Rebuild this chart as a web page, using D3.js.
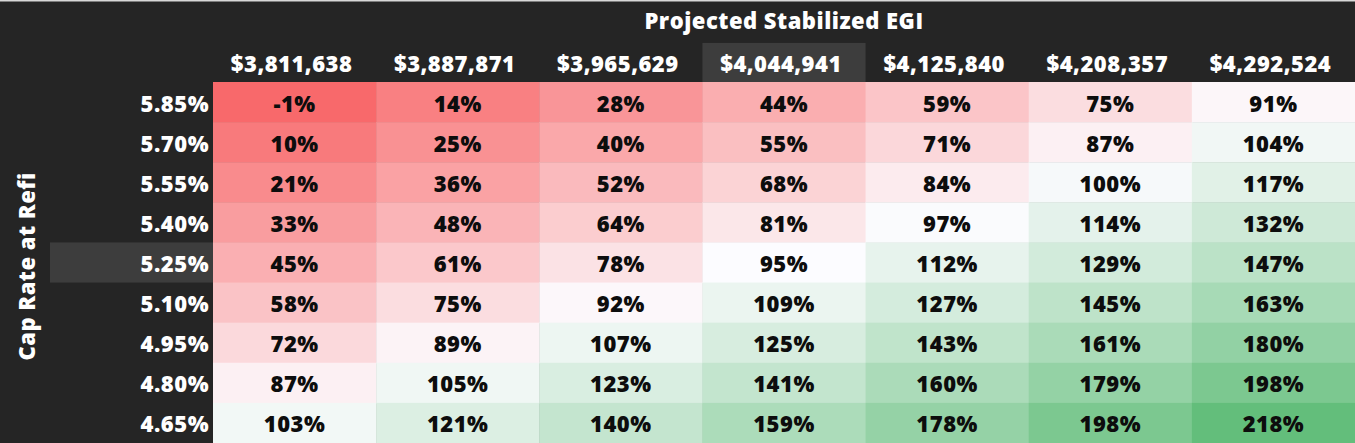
<!DOCTYPE html>
<html lang="en">
<head>
    <meta charset="UTF-8">
    <title>Cap Rate Sensitivity</title>
    <script src="https://d3js.org/d3.v7.min.js"></script>
    <style>
        body {
            margin: 0;
            padding: 0;
            background-color: #252525;
            font-family: 'Open Sans', 'Noto Sans', sans-serif;
            overflow: hidden;
        }
        #chart text {
            font-weight: 800;
            letter-spacing: 0.5px;
        }
    </style>
</head>
<body>
    <div id="chart"></div>

    <script>
        // column headers (projected stabilized EGI)
        const egiLabels = ["$3,811,638", "$3,887,871", "$3,965,629", "$4,044,941", "$4,125,840", "$4,208,357", "$4,292,524"];
        // row headers (cap rate at refi)
        const capRateLabels = ["5.85%", "5.70%", "5.55%", "5.40%", "5.25%", "5.10%", "4.95%", "4.80%", "4.65%"];
        // base case, highlighted in the headers
        const baseEgi = "$4,044,941";
        const baseCapRate = "5.25%";
        // values in %, one row per cap rate
        const values = [
            [-1, 14, 28, 44, 59, 75, 91],
            [10, 25, 40, 55, 71, 87, 104],
            [21, 36, 52, 68, 84, 100, 117],
            [33, 48, 64, 81, 97, 114, 132],
            [45, 61, 78, 95, 112, 129, 147],
            [58, 75, 92, 109, 127, 145, 163],
            [72, 89, 107, 125, 143, 161, 180],
            [87, 105, 123, 141, 160, 179, 198],
            [103, 121, 140, 159, 178, 198, 218]
        ];

        const width = 1355, height = 443;
        const gridLeft = 213, gridTop = 82;
        const fontSize = 22;

        const cells = [];
        values.forEach((row, i) => row.forEach((v, j) => {
            cells.push({ cap: capRateLabels[i], egi: egiLabels[j], value: v });
        }));

        const flat = cells.map(d => d.value);
        const color = d3.scaleLinear()
            .domain([d3.min(flat), d3.median(flat), d3.max(flat)])
            .range(["#f8696b", "#fcfcff", "#63be7b"]);

        const x = d3.scaleBand().domain(egiLabels).range([gridLeft, width]);
        const y = d3.scaleBand().domain(capRateLabels).range([gridTop, height]);

        const svg = d3.select("#chart").append("svg")
            .attr("width", width)
            .attr("height", height)
            .style("display", "block");

        svg.append("rect")
            .attr("width", width).attr("height", height)
            .attr("fill", "#252525");

        // thin light strip at the very top
        svg.append("rect")
            .attr("width", width).attr("height", 1.5)
            .attr("fill", "#d8d8d8");

        // header highlights
        svg.append("rect")
            .attr("x", x(baseEgi)).attr("y", gridTop - y.bandwidth() + 1)
            .attr("width", x.bandwidth()).attr("height", y.bandwidth() - 1)
            .attr("fill", "#3d3d3d");

        svg.append("rect")
            .attr("x", 50).attr("y", y(baseCapRate))
            .attr("width", gridLeft - 50).attr("height", y.bandwidth())
            .attr("fill", "#3d3d3d");

        // cells
        svg.append("g").selectAll("rect")
            .data(cells)
            .join("rect")
            .attr("x", d => x(d.egi))
            .attr("y", d => y(d.cap))
            .attr("width", x.bandwidth() + 0.5)
            .attr("height", y.bandwidth() + 0.5)
            .attr("fill", d => color(d.value));

        svg.append("g").selectAll("text")
            .data(cells)
            .join("text")
            .attr("x", d => x(d.egi) + x.bandwidth() / 2)
            .attr("y", d => y(d.cap) + 29.5)
            .attr("text-anchor", "middle")
            .attr("font-size", fontSize)
            .attr("fill", "#0d0d0d")
            .text(d => d.value + "%");

        // column headers
        svg.append("g").selectAll("text")
            .data(egiLabels)
            .join("text")
            .attr("x", d => x(d) + x.bandwidth() / 2 - 3)
            .attr("y", 72)
            .attr("text-anchor", "middle")
            .attr("font-size", fontSize)
            .attr("fill", "#ffffff")
            .text(d => d);

        // row headers
        svg.append("g").selectAll("text")
            .data(capRateLabels)
            .join("text")
            .attr("x", gridLeft - 4)
            .attr("y", d => y(d) + 29.5)
            .attr("text-anchor", "end")
            .attr("font-size", fontSize)
            .attr("fill", "#ffffff")
            .text(d => d);

        // titles
        svg.append("text")
            .attr("x", (gridLeft + width) / 2)
            .attr("y", 29)
            .attr("text-anchor", "middle")
            .attr("font-size", fontSize)
            .attr("fill", "#ffffff")
            .text("Projected Stabilized EGI");

        svg.append("text")
            .attr("transform", `translate(35,${(gridTop + height) / 2 + 4}) rotate(-90)`)
            .attr("text-anchor", "middle")
            .attr("font-size", fontSize)
            .attr("fill", "#ffffff")
            .text("Cap Rate at Refi");
    </script>
</body>
</html>
